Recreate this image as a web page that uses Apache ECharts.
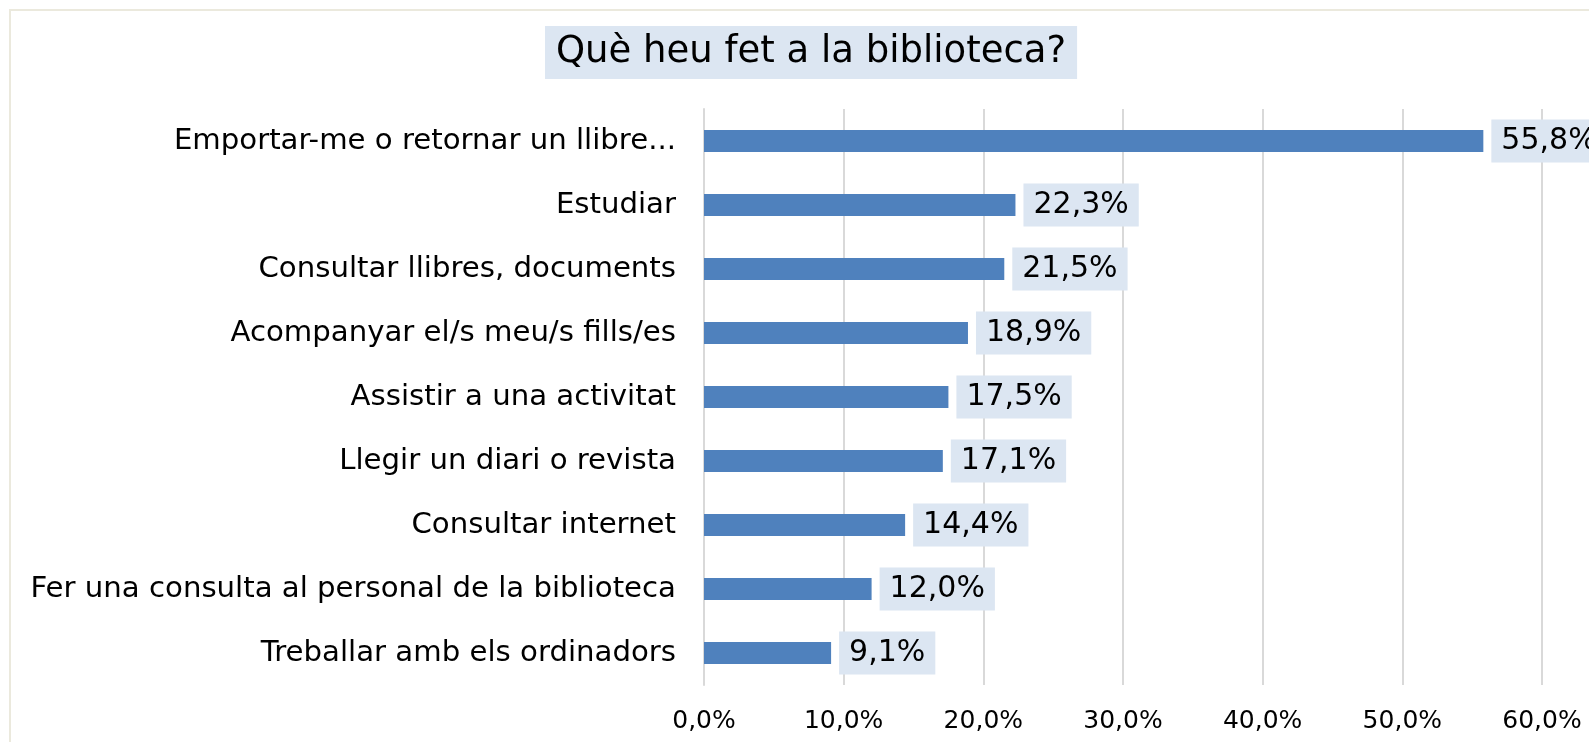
<!DOCTYPE html>
<html>
<head>
<meta charset="utf-8">
<title>Què heu fet a la biblioteca?</title>
<script src="https://cdn.jsdelivr.net/npm/echarts@6/dist/echarts.min.js"></script>
<style>
  html, body { margin: 0; padding: 0; background: #fff; }
  #chart { width: 1589px; height: 742px; }
</style>
</head>
<body>
<div id="chart"></div>
<script>
// categories, top to bottom
var categories = [
    'Emportar-me o retornar un llibre...',
    'Estudiar',
    'Consultar llibres, documents',
    'Acompanyar el/s meu/s fills/es',
    'Assistir a una activitat',
    'Llegir un diari o revista',
    'Consultar internet',
    'Fer una consulta al personal de la biblioteca',
    'Treballar amb els ordinadors'
];
// percentages
var values = [55.8, 22.3, 21.5, 18.9, 17.5, 17.1, 14.4, 12.0, 9.1];
// x axis ticks
var tickMin = 0, tickMax = 60, tickStep = 10;

var font = '"DejaVu Sans", Verdana, sans-serif';
function pct(v) {
    return Number(v).toFixed(1).replace('.', ',') + '%';
}

var myChart = echarts.init(document.getElementById('chart'));
var option = {
    animation: false,
    title: {
        text: 'Què heu fet a la biblioteca?',
        left: 545,
        top: 26,
        padding: [6, 11, 6, 11],
        backgroundColor: '#dce6f2',
        textStyle: {
            fontFamily: font,
            fontSize: 37,
            lineHeight: 41,
            fontWeight: 'normal',
            color: '#000'
        }
    },
    // borde beige (solo se ve arriba y a la izquierda)
    graphic: [{
        type: 'rect',
        shape: { x: 10, y: 10, width: 1640, height: 800 },
        style: { fill: 'none', stroke: '#ebe9dd', lineWidth: 2 },
        silent: true
    }],
    grid: {
        left: 704,
        right: 47,
        top: 109,
        bottom: 57,
        containLabel: false
    },
    xAxis: {
        type: 'value',
        min: tickMin,
        max: tickMax,
        interval: tickStep,
        axisLine: { show: false },
        axisTick: { show: false },
        splitLine: {
            show: true,
            lineStyle: { color: '#d9d9d9', width: 2 }
        },
        axisLabel: {
            fontFamily: font,
            fontSize: 25,
            color: '#000',
            margin: 24,
            formatter: pct
        }
    },
    yAxis: {
        type: 'category',
        inverse: true,
        data: categories,
        axisTick: { show: false },
        axisLine: {
            show: true,
            lineStyle: { color: '#d9d9d9', width: 2 }
        },
        axisLabel: {
            fontFamily: font,
            fontSize: 29.2,
            color: '#000',
            margin: 28
        }
    },
    series: [{
        type: 'bar',
        data: values,
        barWidth: 22,
        itemStyle: { color: '#4f81bd' },
        label: {
            show: true,
            position: 'right',
            distance: 8,
            fontFamily: font,
            fontSize: 30,
            lineHeight: 30,
            color: '#000',
            backgroundColor: '#dce6f2',
            padding: [7, 10, 6, 10],
            formatter: function (p) { return pct(p.value); }
        }
    }]
};
myChart.setOption(option);
</script>
</body>
</html>
